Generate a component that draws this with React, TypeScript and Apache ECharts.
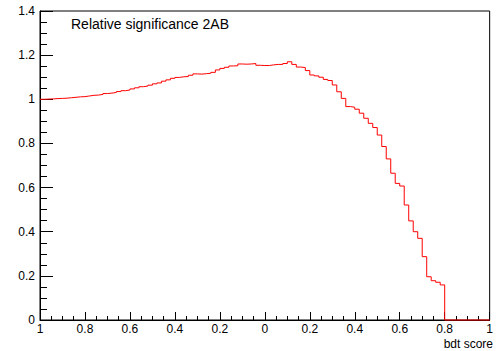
import React, { useEffect, useRef } from "react";
import * as echarts from "echarts";

// Histogram: 100 bins from -1 to 1 (bin width 0.02)
const binStart = -1;
const binWidth = 0.02;
const binValues: number[] = [
  1.0, 1.001, 1.002, 1.003, 1.004, 1.005, 1.007, 1.009, 1.011, 1.012,
  1.015, 1.018, 1.019, 1.022, 1.026, 1.028, 1.031, 1.035, 1.039, 1.042,
  1.047, 1.052, 1.057, 1.06, 1.064, 1.07, 1.074, 1.082, 1.088, 1.095,
  1.099, 1.102, 1.103, 1.109, 1.115, 1.114, 1.116, 1.118, 1.122, 1.133,
  1.14, 1.145, 1.151, 1.152, 1.16, 1.159, 1.16, 1.162, 1.154, 1.153,
  1.153, 1.156, 1.158, 1.158, 1.162, 1.17, 1.158, 1.146, 1.144, 1.13,
  1.11, 1.106, 1.1, 1.09, 1.085, 1.065, 1.034, 1.004, 0.967, 0.964,
  0.955, 0.937, 0.914, 0.891, 0.872, 0.838, 0.786, 0.73, 0.665, 0.619,
  0.607, 0.521, 0.449, 0.4, 0.37, 0.287, 0.196, 0.178, 0.171, 0.159,
  0, 0, 0, 0, 0, 0, 0, 0, 0, 0,
];

const xTickLabels = ["1", "0.8", "0.6", "0.4", "0.2", "0", "0.2", "0.4", "0.6", "0.8", "1"];
const yTickLabels = ["0", "0.2", "0.4", "0.6", "0.8", "1", "1.2", "1.4"];
const titleText = "Relative significance 2AB";
const xAxisTitle = "bdt score";

const FONT = "Liberation Sans, Arial, Helvetica, sans-serif";

export default function App() {
  const ref = useRef<HTMLDivElement>(null);
  useEffect(() => {
    if (!ref.current) return;
    const chart = echarts.init(ref.current, undefined, { renderer: "svg" });
    const data: [number, number][] = binValues.map((v, i) => [
      Number((binStart + binWidth * i).toFixed(4)),
      v,
    ]);
    data.push([Number((binStart + binWidth * binValues.length).toFixed(4)), binValues[binValues.length - 1]]);

    chart.setOption({
      animation: false,
      backgroundColor: "#fff",
      title: {
        text: titleText,
        left: 71,
        top: 17,
        padding: 0,
        textStyle: { fontSize: 14, fontWeight: "normal", fontFamily: FONT, color: "#000" },
      },
      graphic: [
        {
          type: "text",
          right: 3,
          top: 338,
          style: { text: xAxisTitle, font: `12px ${FONT}`, fill: "#000" },
        },
      ],
      grid: {
        left: 40,
        right: 3,
        top: 11,
        bottom: 31,
        show: true,
        borderColor: "#000",
        borderWidth: 1,
        backgroundColor: "transparent",
      },
      xAxis: {
        type: "value",
        min: -1,
        max: 1,
        interval: 0.2,
        axisLine: { show: true, onZero: false, lineStyle: { color: "#000", width: 1 } },
        axisTick: { show: true, inside: true, length: 8, lineStyle: { color: "#000" } },
        minorTick: { show: true, splitNumber: 4, length: 4, lineStyle: { color: "#000" } },
        splitLine: { show: false },
        axisLabel: {
          margin: 3,
          fontSize: 12,
          lineHeight: 12,
          fontFamily: FONT,
          color: "#000",
          formatter: (v: number) => xTickLabels[Math.round((v + 1) / 0.2)] ?? "",
        },
      },
      yAxis: {
        type: "value",
        min: 0,
        max: 1.4,
        interval: 0.2,
        axisLine: { show: true, onZero: false, lineStyle: { color: "#000", width: 1 } },
        axisTick: { show: true, inside: true, length: 13, lineStyle: { color: "#000" } },
        minorTick: { show: true, splitNumber: 4, length: 7, lineStyle: { color: "#000" } },
        splitLine: { show: false },
        axisLabel: {
          margin: 5,
          fontSize: 12,
          fontFamily: FONT,
          color: "#000",
          formatter: (v: number) => yTickLabels[Math.round(v / 0.2)] ?? "",
        },
      },
      series: [
        {
          type: "line",
          step: "end",
          data,
          symbol: "none",
          lineStyle: { color: "#ff0000", width: 1 },
          itemStyle: { color: "#ff0000" },
          clip: false,
        },
      ],
    });
    return () => chart.dispose();
  }, []);
  return (
    <div
      ref={ref}
      style={{ position: "absolute", left: 0, top: 0, width: 496, height: 351 }}
    />
  );
}
